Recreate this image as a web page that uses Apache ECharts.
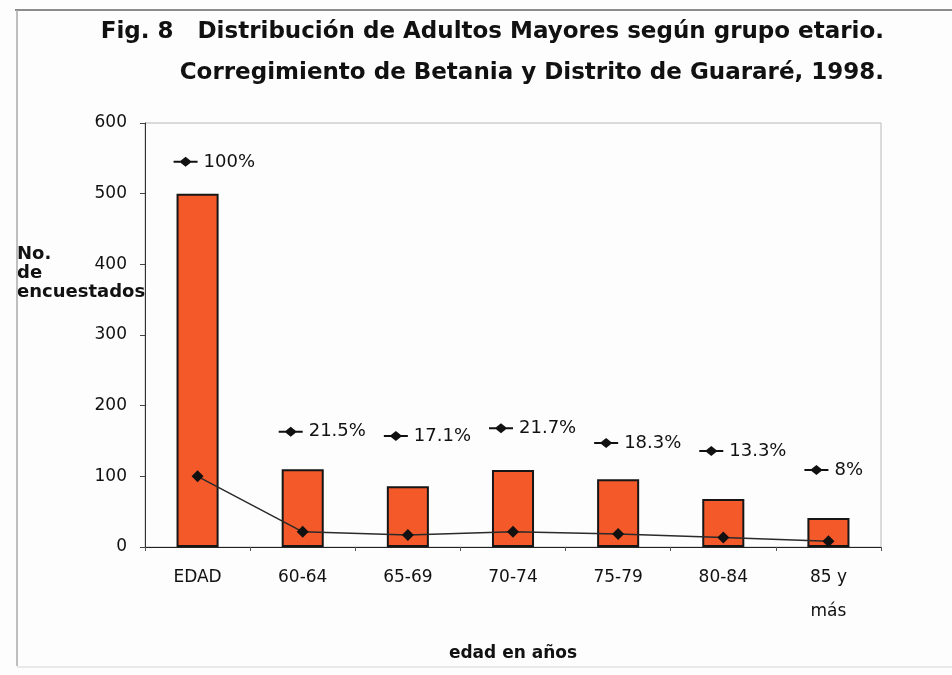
<!DOCTYPE html>
<html>
<head>
<meta charset="utf-8">
<title>Fig. 8</title>
<script src="https://cdn.jsdelivr.net/npm/echarts@6/dist/echarts.min.js"></script>
<style>
  html, body { margin: 0; padding: 0; background: #fdfdfd; }
  #main { width: 952px; height: 675px; }
</style>
</head>
<body>
<div id="main"></div>
<script>
//grafico
let chart = echarts.init(document.getElementById('main'));

//grupos de edad
let categorias = ['EDAD', '60-64', '65-69', '70-74', '75-79', '80-84', '85 y\nmás'];
//no. de encuestados (barras)
let encuestados = [500, 110, 86, 109, 96, 68, 41];
//porcentajes (linea)
let porcentajes = [100, 21.5, 17.1, 21.7, 18.3, 13.3, 8];
//altura de las etiquetas de porcentaje, en unidades del eje y
let alturaEtiqueta = [545, 163, 157, 168, 147, 136, 109];
//marcas del eje y
let ejeY = {min: 0, max: 600, interval: 100};

let fuente = 'DejaVu Sans';
//simbolo de la leyenda de linea: -◆-
let simboloLinea = 'path://M0,4 L7,4 L12,0 L17,4 L24,4 L24,6 L17,6 L12,10 L7,6 L0,6 Z';

let option = {
    backgroundColor: '#fdfdfd',
    animation: false,
    grid: {
        left: 145,
        right: 71,
        top: 123,
        bottom: 128,
        show: true,
        borderColor: '#b8b8b8',
        borderWidth: 1
    },
    graphic: [
        {
            type: 'text',
            right: 68,
            top: 21,
            style: {
                text: 'Fig. 8   Distribución de Adultos Mayores según grupo etario.',
                font: 'bold 23px ' + fuente,
                fill: '#111'
            }
        },
        {
            type: 'text',
            right: 68,
            top: 62,
            style: {
                text: 'Corregimiento de Betania y Distrito de Guararé, 1998.',
                font: 'bold 23px ' + fuente,
                fill: '#111'
            }
        },
        {
            type: 'text',
            left: 17,
            top: 245,
            style: {
                text: 'No.\nde\nencuestados',
                font: 'bold 18px ' + fuente,
                lineHeight: 19,
                fill: '#111'
            }
        },
        //marco
        {type: 'line', shape: {x1: 15, y1: 10, x2: 952, y2: 10}, style: {stroke: '#666', lineWidth: 1.5}},
        {type: 'line', shape: {x1: 17, y1: 10, x2: 17, y2: 666}, style: {stroke: '#aaa', lineWidth: 1.5}},
        {type: 'line', shape: {x1: 17, y1: 667, x2: 952, y2: 667}, style: {stroke: '#e2e2e2', lineWidth: 1.5}}
    ],
    xAxis: {
        type: 'category',
        data: categorias,
        name: 'edad en años',
        nameLocation: 'middle',
        nameGap: 98,
        nameTextStyle: {fontFamily: fuente, fontSize: 17, fontWeight: 'bold', color: '#111'},
        axisLine: {lineStyle: {color: '#222', width: 1.2}},
        axisTick: {show: true, length: 4, lineStyle: {color: '#555'}},
        axisLabel: {
            fontFamily: fuente,
            fontSize: 17,
            color: '#111',
            lineHeight: 34,
            margin: 14
        }
    },
    yAxis: {
        type: 'value',
        min: ejeY.min,
        max: ejeY.max,
        interval: ejeY.interval,
        axisLine: {show: true, lineStyle: {color: '#333', width: 1}},
        axisTick: {show: true, length: 5, lineStyle: {color: '#444'}},
        splitLine: {show: false},
        axisLabel: {fontFamily: fuente, fontSize: 17, color: '#111', margin: 18}
    },
    series: [
        {
            name: 'No. de encuestados',
            type: 'bar',
            data: encuestados,
            barWidth: '40%',
            itemStyle: {
                color: '#f4592a',
                borderColor: '#161616',
                borderWidth: 2
            }
        },
        {
            name: 'Porcentaje',
            type: 'line',
            data: porcentajes,
            symbol: 'diamond',
            symbolSize: [12, 12],
            z: 5,
            lineStyle: {color: '#2a2a2a', width: 1.5},
            itemStyle: {color: '#111'}
        },
        {
            name: 'Etiquetas',
            type: 'scatter',
            data: porcentajes.map((p, i) => ({value: [i, alturaEtiqueta[i]], pct: p})),
            symbol: simboloLinea,
            symbolSize: [24, 10],
            symbolOffset: [-12, 0],
            itemStyle: {color: '#111', opacity: 1},
            label: {
                show: true,
                position: 'right',
                distance: 6,
                fontFamily: fuente,
                fontSize: 18,
                color: '#111',
                formatter: function (p) {
                    return p.data.pct + '%';
                }
            },
            z: 6
        }
    ]
};

chart.setOption(option);
</script>
</body>
</html>
